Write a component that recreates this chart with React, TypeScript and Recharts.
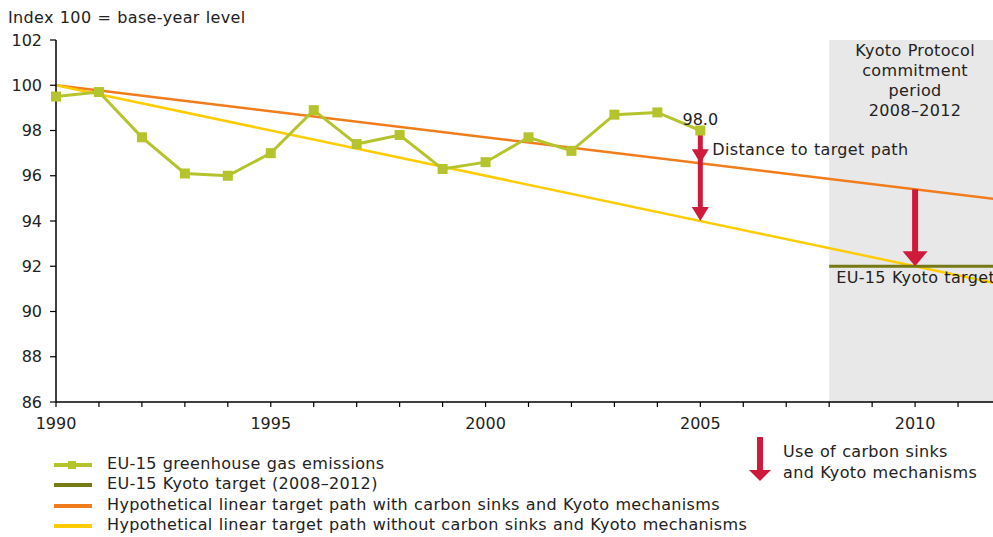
import React from 'react';
import { LineChart, Line, XAxis, YAxis, ReferenceArea, ReferenceLine, ReferenceDot } from 'recharts';

const emissionYears = [1990, 1991, 1992, 1993, 1994, 1995, 1996, 1997, 1998, 1999, 2000, 2001, 2002, 2003, 2004, 2005];
const emissionValues = [99.5, 99.7, 97.7, 96.1, 96.0, 97.0, 98.9, 97.4, 97.8, 96.3, 96.6, 97.7, 97.1, 98.7, 98.8, 98.0];
const pathYears = [1990, 2012];
const pathWithSinks = [100, 94.94];
const pathWithoutSinks = [100, 91.2];
const targetYears = [2008, 2012];
const targetValues = [92, 92];
const xTicks = [1990, 1991, 1992, 1993, 1994, 1995, 1996, 1997, 1998, 1999, 2000, 2001, 2002, 2003, 2004, 2005, 2006, 2007, 2008, 2009, 2010, 2011, 2012];
const xLabelYears = [1990, 1995, 2000, 2005, 2010];
const yTicks = [86, 88, 90, 92, 94, 96, 98, 100, 102];
const kyotoPeriod = [2008, 2012];
const kyotoLabel = ['Kyoto Protocol', 'commitment', 'period', '2008–2012'];
const distanceArrow = { year: 2005, from: 98.0, mid: 96.55, to: 94.0 };
const sinksArrow = { year: 2010, from: 95.4, to: 92 };
const legendItems = [
  'EU-15 greenhouse gas emissions',
  'EU-15 Kyoto target (2008–2012)',
  'Hypothetical linear target path with carbon sinks and Kyoto mechanisms',
  'Hypothetical linear target path without carbon sinks and Kyoto mechanisms',
];

const GREEN = '#b5c42c';
const OLIVE = '#767a14';
const ORANGE = '#f07c1c';
const YELLOW = '#ffcc00';
const RED = '#cf1a3c';
const FONT = '"DejaVu Sans", Verdana, sans-serif';
const LS = 0.35;
const WS = 0.6;

const toRows = (xs: number[], vs: number[]) => xs.map((x, i) => ({ year: x, v: vs[i] }));
const emissionsData = toRows(emissionYears, emissionValues);
const withSinksData = toRows(pathYears, pathWithSinks);
const withoutSinksData = toRows(pathYears, pathWithoutSinks);
const targetData = toRows(targetYears, targetValues);

const Head = ({ x, y, w, h }: { x: number; y: number; w: number; h: number }) => (
  <polygon points={`${x - w / 2},${y - h} ${x + w / 2},${y - h} ${x},${y}`} fill={RED} />
);

const SquareDot = (p: any) => {
  if (p.cx == null || p.cy == null) return <g key={p.index} />;
  return <rect key={p.index} x={p.cx - 5} y={p.cy - 5} width={10} height={10} fill={GREEN} />;
};

export default function App() {
  return (
    <div style={{ position: 'absolute', left: 0, top: 0, width: 993, height: 537, overflow: 'hidden', background: '#fff', fontFamily: FONT }}>
      <div style={{ position: 'absolute', left: 8, top: 8, fontSize: 16, color: '#222', lineHeight: '20px', letterSpacing: LS, wordSpacing: WS }}>
        Index 100 = base-year level
      </div>
      <LineChart width={1001} height={537} margin={{ top: 40, right: 0, bottom: 105, left: 0 }}>
        <ReferenceArea
          x1={kyotoPeriod[0]}
          x2={kyotoPeriod[1]}
          y1={86}
          y2={102}
          fill="#e8e8e8"
          fillOpacity={1}
          stroke="none"
          label={(props: any) => {
            const vb = props.viewBox || {};
            const cx = vb.x + vb.width / 2;
            return (
              <text x={cx} y={vb.y} textAnchor="middle" fontSize={16} fill="#222" fontFamily={FONT} style={{ letterSpacing: LS, wordSpacing: WS }}>
                {kyotoLabel.map((t, i) => (
                  <tspan key={i} x={cx} y={vb.y + 16 + i * 20}>{t}</tspan>
                ))}
              </text>
            );
          }}
        />
        <XAxis
          dataKey="year"
          type="number"
          domain={[1990, 2012]}
          ticks={xTicks}
          interval={0}
          tickFormatter={(v: number) => (xLabelYears.includes(v) ? String(v) : '')}
          axisLine={{ stroke: '#000', strokeWidth: 1.5 }}
          tickLine={{ stroke: '#000', strokeWidth: 1.2 }}
          tickSize={5}
          tickMargin={11}
          tick={{ fill: '#222', fontSize: 16, fontFamily: FONT }}
          allowDuplicatedCategory={false}
        />
        <YAxis
          type="number"
          domain={[86, 102]}
          ticks={yTicks}
          interval={0}
          width={56}
          axisLine={{ stroke: '#000', strokeWidth: 1.5 }}
          tickLine={{ stroke: '#000', strokeWidth: 1.2 }}
          tickSize={6}
          tickMargin={8}
          tick={{ fill: '#222', fontSize: 16, fontFamily: FONT }}
        />
        <Line data={withSinksData} dataKey="v" stroke={ORANGE} strokeWidth={2.5} dot={false} isAnimationActive={false} />
        <Line data={withoutSinksData} dataKey="v" stroke={YELLOW} strokeWidth={2.5} dot={false} isAnimationActive={false} />
        <Line data={targetData} dataKey="v" stroke={OLIVE} strokeWidth={3} dot={false} isAnimationActive={false} />
        <Line data={emissionsData} dataKey="v" stroke={GREEN} strokeWidth={3} dot={SquareDot} isAnimationActive={false} />
        <ReferenceDot
          x={distanceArrow.year}
          y={distanceArrow.from}
          r={0}
          fill="none"
          stroke="none"
          label={{ value: '98.0', position: 'top', offset: 6, fontSize: 16, fill: '#222', fontFamily: FONT }}
        />
        <ReferenceLine
          segment={[{ x: distanceArrow.year, y: distanceArrow.from }, { x: distanceArrow.year, y: distanceArrow.to }]}
          stroke={RED}
          shape={(p: any) => {
            const { x1, y1, y2 } = p;
            const ym = y1 + ((y2 - y1) * (distanceArrow.from - distanceArrow.mid)) / (distanceArrow.from - distanceArrow.to);
            return (
              <g>
                <line x1={x1} y1={y1} x2={x1} y2={y2 - 10} stroke={RED} strokeWidth={5} />
                <Head x={x1} y={ym} w={17} h={14} />
                <Head x={x1} y={y2} w={17} h={14} />
                <text x={x1 + 12} y={y1 + 20} fontSize={16} fill="#222" fontFamily={FONT} dominantBaseline="middle" style={{ letterSpacing: LS, wordSpacing: WS }}>
                  Distance to target path
                </text>
              </g>
            );
          }}
        />
        <ReferenceLine
          segment={[{ x: sinksArrow.year, y: sinksArrow.from }, { x: sinksArrow.year, y: sinksArrow.to }]}
          stroke={RED}
          shape={(p: any) => {
            const { x1, y1, y2 } = p;
            return (
              <g>
                <line x1={x1} y1={y1} x2={x1} y2={y2 - 10} stroke={RED} strokeWidth={6} />
                <Head x={x1} y={y2} w={25} h={15} />
              </g>
            );
          }}
        />
        <ReferenceLine
          segment={[{ x: targetYears[0], y: targetValues[0] }, { x: targetYears[1], y: targetValues[1] }]}
          stroke="none"
          shape={(p: any) => (
            <text x={p.x1 + 7} y={p.y1 + 12} fontSize={16} fill="#222" fontFamily={FONT} dominantBaseline="middle" style={{ letterSpacing: LS, wordSpacing: WS }}>
              EU-15 Kyoto target
            </text>
          )}
        />
      </LineChart>
      <div style={{ position: 'absolute', left: 0, top: 454, fontSize: 16, color: '#222', letterSpacing: LS, wordSpacing: WS }}>
        {legendItems.map((t, i) => (
          <div key={i} style={{ position: 'absolute', left: 0, top: i * 20.3, height: 20, whiteSpace: 'nowrap' }}>
            <svg width={100} height={20} style={{ position: 'absolute', left: 0, top: 0 }}>
              <line x1={54} y1={11} x2={92} y2={11} stroke={[GREEN, OLIVE, ORANGE, YELLOW][i]} strokeWidth={4} />
              {i === 0 && <rect x={68} y={7} width={8} height={8} fill={GREEN} />}
            </svg>
            <span style={{ position: 'absolute', left: 107, top: 0, lineHeight: '20px' }}>{t}</span>
          </div>
        ))}
      </div>
      <svg width={40} height={50} style={{ position: 'absolute', left: 740, top: 434 }}>
        <line x1={20} y1={3} x2={20} y2={38} stroke={RED} strokeWidth={6} />
        <polygon points="9,36 31,36 20,47" fill={RED} />
      </svg>
      <div style={{ position: 'absolute', left: 783, top: 442, fontSize: 16, color: '#222', lineHeight: '20.5px', letterSpacing: LS, wordSpacing: WS }}>
        Use of carbon sinks
        <br />
        and Kyoto mechanisms
      </div>
    </div>
  );
}
